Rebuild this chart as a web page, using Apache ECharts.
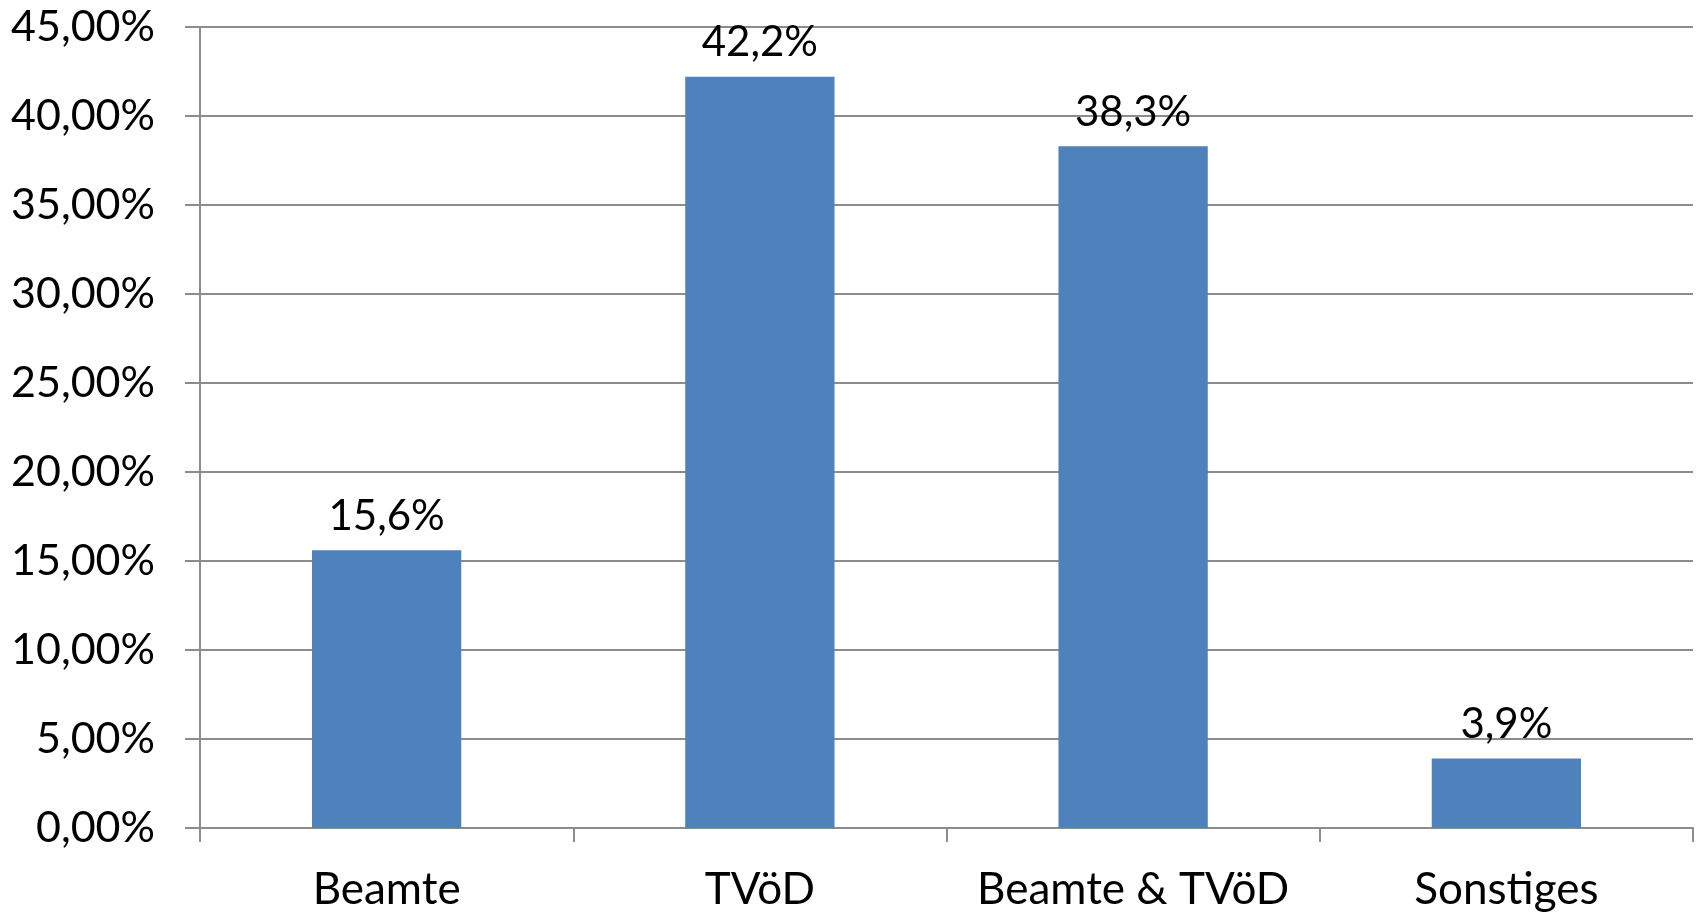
<!DOCTYPE html>
<html>
<head>
<meta charset="utf-8">
<script src="https://cdn.jsdelivr.net/npm/echarts@6/dist/echarts.min.js"></script>
<style>
html,body{margin:0;padding:0;background:#fff;}
#c{width:1698px;height:913px;}
</style>
</head>
<body>
<div id="c"></div>
<script>
const categories = ['Beamte', 'TVöD', 'Beamte & TVöD', 'Sonstiges'];
const values = [15.6, 42.2, 38.3, 3.9];
const yMin = 0, yMax = 45, yStep = 5;

const fontFamily = 'Lato, "Open Sans", sans-serif';
const gray = '#8c8c8c';
const chart = echarts.init(document.getElementById('c'));
chart.setOption({
  animation: false,
  backgroundColor: '#ffffff',
  grid: { left: 200, right: 5, top: 27, bottom: 85, containLabel: false },
  xAxis: {
    type: 'category',
    data: categories,
    boundaryGap: true,
    axisLine: { show: true, lineStyle: { color: gray, width: 2 } },
    axisTick: { show: true, interval: 0, length: 14, lineStyle: { color: gray, width: 2 } },
    axisLabel: { interval: 0, color: '#000', fontFamily: fontFamily, fontSize: 44, margin: 40 }
  },
  yAxis: {
    type: 'value',
    min: yMin, max: yMax, interval: yStep,
    axisLine: { show: true, lineStyle: { color: gray, width: 2 } },
    axisTick: { show: true, length: 15, lineStyle: { color: gray, width: 2 } },
    splitLine: { show: true, lineStyle: { color: gray, width: 2 } },
    axisLabel: {
      color: '#000', fontFamily: fontFamily, fontSize: 43, margin: 45,
      formatter: v => v.toFixed(2).replace('.', ',') + '%'
    }
  },
  series: [{
    type: 'bar',
    data: values,
    barWidth: '40%',
    itemStyle: { color: '#4f81bd' },
    label: {
      show: true, position: 'top', distance: 13,
      color: '#000', fontFamily: fontFamily, fontSize: 42,
      formatter: p => p.value.toFixed(1).replace('.', ',') + '%'
    }
  }]
});
</script>
</body>
</html>
